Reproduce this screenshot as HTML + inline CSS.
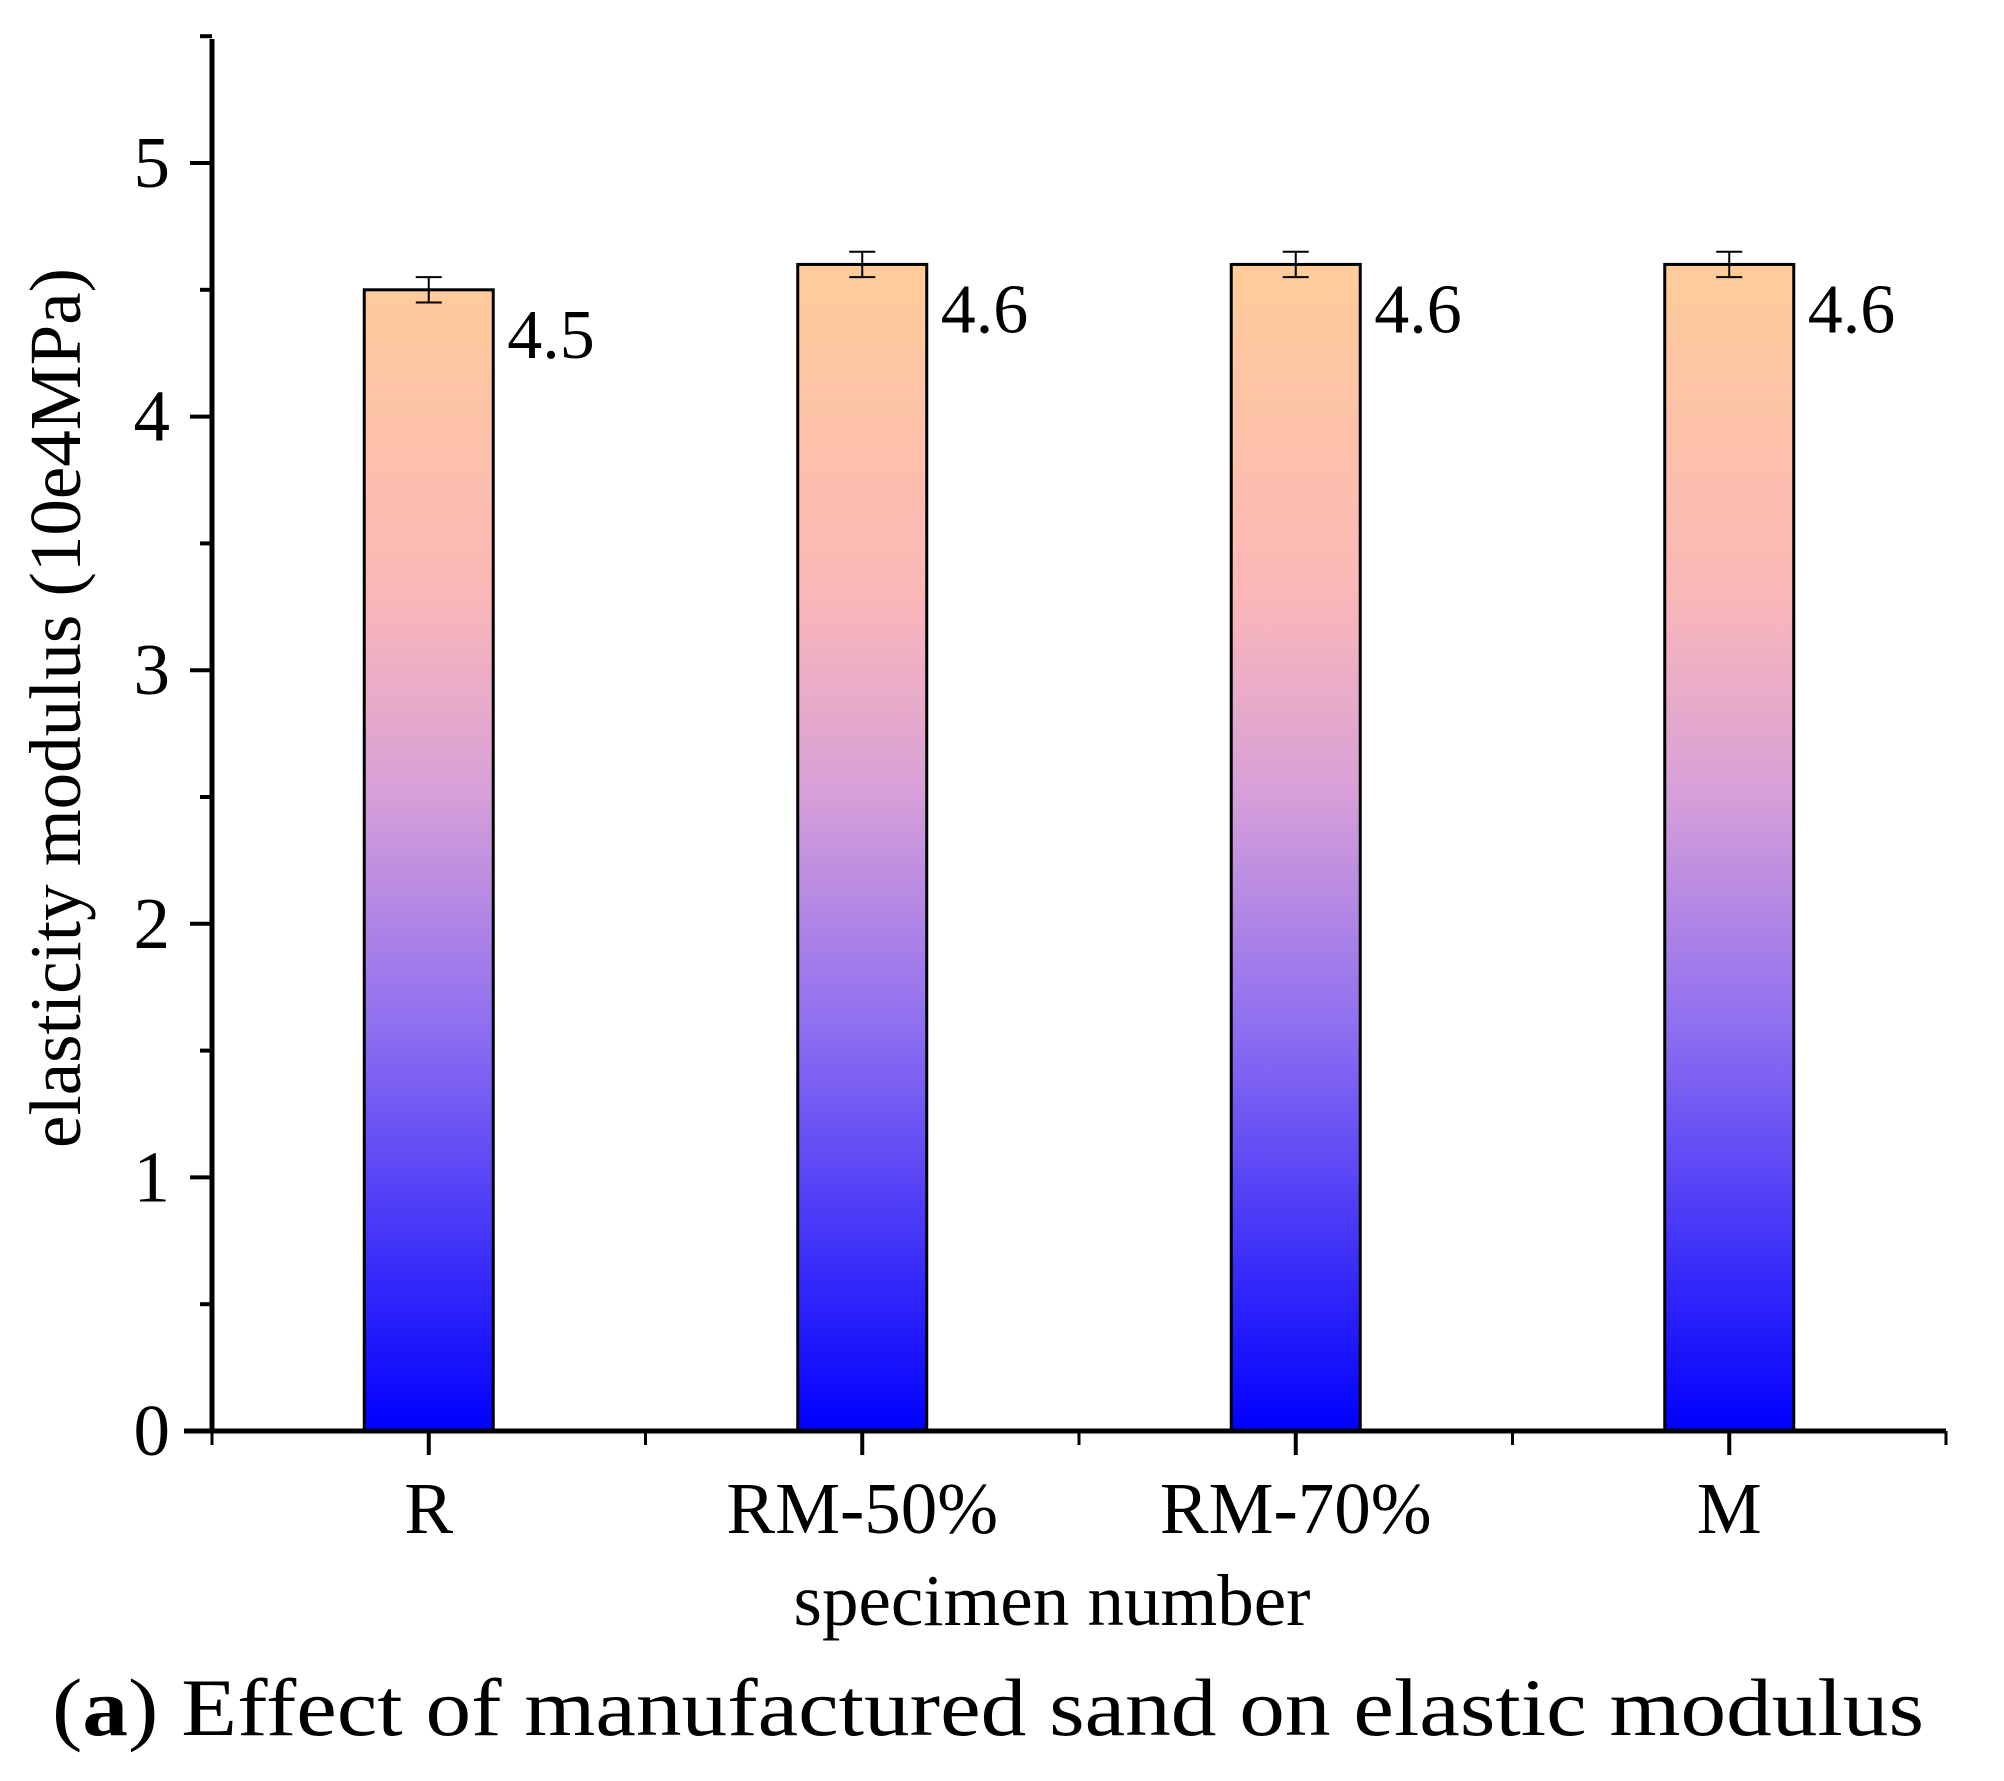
<!DOCTYPE html>
<html><head><meta charset="utf-8"><style>html,body{margin:0;padding:0;background:#fff}svg{display:block}</style></head>
<body>
<svg id="chart" width="2004" height="1781" viewBox="0 0 2004 1781" xmlns="http://www.w3.org/2000/svg" font-family="'Liberation Serif', serif">
<defs>
<linearGradient id="grad" gradientUnits="userSpaceOnUse" x1="0" y1="1431" x2="0" y2="264">
<stop offset="0" stop-color="#0000ff"/>
<stop offset="0.35" stop-color="#9070f0"/>
<stop offset="0.55" stop-color="#d8a0d8"/>
<stop offset="0.72" stop-color="#fbb8b8"/>
<stop offset="1" stop-color="#ffcc99"/>
</linearGradient>
</defs>
<g id="plot"></g>
<text x="1052" y="1625" font-size="73" text-anchor="middle">specimen number</text>
<text transform="translate(80,708) rotate(-90)" font-size="73" text-anchor="middle">elasticity modulus (10e4MPa)</text>
<text x="52" y="1735" font-size="82" textLength="1872" lengthAdjust="spacingAndGlyphs">(<tspan font-weight="bold">a</tspan>) Effect of manufactured sand on elastic modulus</text>
</svg>
<script>
const categories = ["R", "RM-50%", "RM-70%", "M"];
const values = [4.5, 4.6, 4.6, 4.6];
const errors = [0.05, 0.05, 0.05, 0.05];
const valueLabels = ["4.5", "4.6", "4.6", "4.6"];
const yTicks = [0, 1, 2, 3, 4, 5];

const NS = "http://www.w3.org/2000/svg";
const g = document.getElementById('plot');
const X0 = 212, Y0 = 1431, UNIT = 253.6, YTOP = 39, XEND = 1946;
const y = v => Y0 - v * UNIT;
const x = i => X0 + (i + 0.5) * ((XEND - X0) / categories.length);
const bw = 129;
function mk(tag, attrs) { const e = document.createElementNS(NS, tag); for (const k in attrs) e.setAttribute(k, attrs[k]); g.appendChild(e); return e; }

categories.forEach((c, i) => {
  const cx = x(i);
  const bar = mk('rect', {x: cx - bw/2, y: y(values[i]), width: bw, height: Y0 - y(values[i]), fill: 'url(#grad)', stroke: '#000', 'stroke-width': 3});
  
  
  const eb = mk('path', {d: `M${cx-13},${y(values[i]+errors[i])}H${cx+13}M${cx},${y(values[i]+errors[i])}V${y(values[i]-errors[i])}M${cx-13},${y(values[i]-errors[i])}H${cx+13}`, stroke: '#000', 'stroke-width': 2, fill: 'none'});
  
  
  const vl = mk('text', {x: cx + bw/2 + 14, y: y(values[i]) + 68, 'font-size': 70});
  vl.textContent = valueLabels[i];
  
  
  const cl = mk('text', {x: cx, y: 1533, 'font-size': 73, 'text-anchor': 'middle'});
  cl.textContent = c;
  
  
  const t = mk('line', {x1: cx, x2: cx, y1: Y0, y2: Y0 + 24, stroke: '#000', 'stroke-width': 4});
  
  
});
for (let i = 0; i <= categories.length; i++) {
  const bx = X0 + i * ((XEND - X0) / categories.length);
  const t = mk('line', {x1: bx, x2: bx, y1: Y0, y2: Y0 + 14, stroke: '#000', 'stroke-width': 3});
  
  
}
yTicks.forEach(v => {
  const t = mk('line', {x1: X0 - 22, x2: X0, y1: y(v), y2: y(v), stroke: '#000', 'stroke-width': 4});
  
  
  const mt = mk('line', {x1: X0 - 12, x2: X0, y1: y(v + 0.5), y2: y(v + 0.5), stroke: '#000', 'stroke-width': 4});
  
  
  const l = mk('text', {x: 170, y: y(v) + 24, 'font-size': 73, 'text-anchor': 'end'});
  l.textContent = String(v);
  
  
});
const ya = mk('line', {x1: X0, x2: X0, y1: YTOP, y2: Y0 + 2, stroke: '#000', 'stroke-width': 5});


const xa = mk('line', {x1: X0 - 28, x2: XEND, y1: Y0, y2: Y0, stroke: '#000', 'stroke-width': 5});


</script>
</body></html>
